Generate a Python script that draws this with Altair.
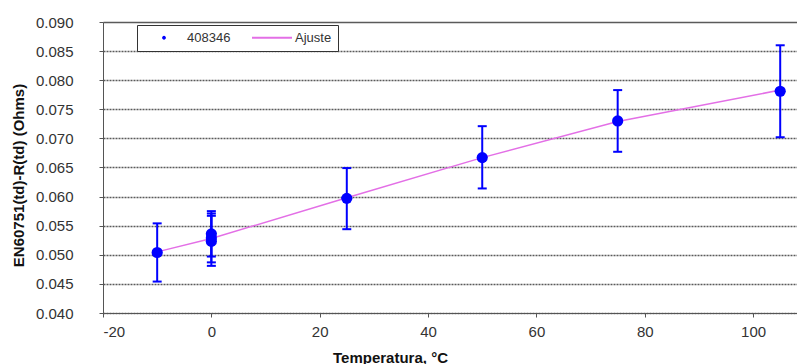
import altair as alt
import pandas as pd

# Measured deviation EN60751(td) - R(td) with uncertainty, per temperature
temps = [-10, 0, 0, 0, 25, 50, 75, 105]
values = [0.0504, 0.0536, 0.0529, 0.0523, 0.0597, 0.0667, 0.0730, 0.0781]
err_low = [0.0454, 0.0497, 0.0487, 0.0481, 0.0544, 0.0614, 0.0677, 0.0702]
err_high = [0.0554, 0.0575, 0.0571, 0.0567, 0.0649, 0.0721, 0.0783, 0.0860]

# Fitted curve
fit_t = [-10, 0, 25, 50, 75, 105]
fit_v = [0.0505, 0.0528, 0.0598, 0.0667, 0.0729, 0.0783]

series_names = ["408346", "Ajuste"]
series_colors = ["#0000ff", "#e36fe6"]
# legend glyphs: a small dot and a horizontal line
series_shapes = [
    "M-0.05,0A0.05,0.05,0,1,0,0.05,0A0.05,0.05,0,1,0,-0.05,0Z",
    "M-1,0H1",
]

x_ticks = [-20, 0, 20, 40, 60, 80, 100]
y_ticks = [0.040, 0.045, 0.050, 0.055, 0.060, 0.065, 0.070, 0.075, 0.080, 0.085, 0.090]

meas = pd.DataFrame({"t": temps, "v": values, "lo": err_low, "hi": err_high})
fit = pd.DataFrame({"t": fit_t, "v": fit_v})
leg = pd.DataFrame({"serie": series_names})

FONT = "Liberation Sans"
BLUE = series_colors[0]

x_scale = alt.Scale(domain=[-20, 108.1], nice=False, zero=False)
y_scale = alt.Scale(domain=[0.040, 0.090], nice=False, zero=False)

x_axis = alt.Axis(
    values=x_ticks,
    format="d",
    labelExpr="replace(datum.label, '\u2212', '-')",
    labelOverlap=False,
    title="Temperatura, °C",
    titleX=287,
    titleY=37,
    grid=False,
)
y_axis = alt.Axis(
    values=y_ticks,
    format=".3f",
    labelOverlap=False,
    title="EN60751(td)-R(td) (Ohms)",
    titleX=-85,
    titleY=153,
    titleBaseline="middle",
    grid=True,
    gridDash={"condition": {"test": "datum.value >= 0.0899", "value": []}, "value": [2, 1]},
    gridColor="#5a5a5a",
    gridWidth=1.4,
)


def xq(field):
    return alt.X(field, type="quantitative", scale=x_scale, axis=x_axis)


def yq(field):
    return alt.Y(field, type="quantitative", scale=y_scale, axis=y_axis)


fit_line = alt.Chart(fit).mark_line(color=series_colors[1], strokeWidth=1.5).encode(
    x=xq("t"), y=yq("v")
)

bars = alt.Chart(meas).mark_rule(color=BLUE, strokeWidth=2).encode(
    x=xq("t"), y=yq("lo"), y2="hi:Q"
)
caps_lo = alt.Chart(meas).mark_tick(
    color=BLUE, orient="horizontal", size=9, thickness=2, opacity=1
).encode(x=xq("t"), y=yq("lo"))
caps_hi = alt.Chart(meas).mark_tick(
    color=BLUE, orient="horizontal", size=9, thickness=2, opacity=1
).encode(x=xq("t"), y=yq("hi"))

points = alt.Chart(meas).mark_circle(color=BLUE, size=125, opacity=1).encode(
    x=xq("t"), y=yq("v")
)

# legend carrier layer (marks themselves are invisible)
legend_layer = alt.Chart(leg).mark_point(filled=False, opacity=0).encode(
    color=alt.Color(
        "serie:N",
        scale=alt.Scale(domain=series_names, range=series_colors),
        legend=alt.Legend(title=None),
    ),
    shape=alt.Shape(
        "serie:N",
        scale=alt.Scale(domain=series_names, range=series_shapes),
        legend=alt.Legend(title=None),
    ),
)

chart = (
    alt.layer(fit_line, bars, caps_lo, caps_hi, points, legend_layer)
    .properties(
        width=694,
        height=291,
        autosize=alt.AutoSizeParams(type="none"),
        padding={"left": 103, "top": 22, "right": 0, "bottom": 51},
    )
    .configure_view(stroke=None)
    .configure_axis(
        labelFont=FONT,
        labelFontSize=15,
        labelColor="#333333",
        titleFont=FONT,
        titleFontSize=15,
        titleFontWeight="bold",
        titleColor="#111111",
        domainColor="#555555",
        domainWidth=1,
        tickColor="#555555",
        tickSize=4,
    )
    .configure_axisY(labelPadding=26)
    .configure_axisX(labelPadding=7)
    .configure_legend(
        orient="none",
        legendX=34,
        legendY=3,
        direction="horizontal",
        padding=6,
        strokeColor="#333333",
        fillColor="#ffffff",
        symbolSize=1600,
        symbolStrokeWidth=1.8,
        symbolOpacity=1,
        clipHeight=13,
        columnPadding=20,
        labelOffset=2,
        labelFont=FONT,
        labelFontSize=13,
        labelColor="#333333",
    )
)

chart.save("out.html", embed_options={"renderer": "svg", "actions": False})
